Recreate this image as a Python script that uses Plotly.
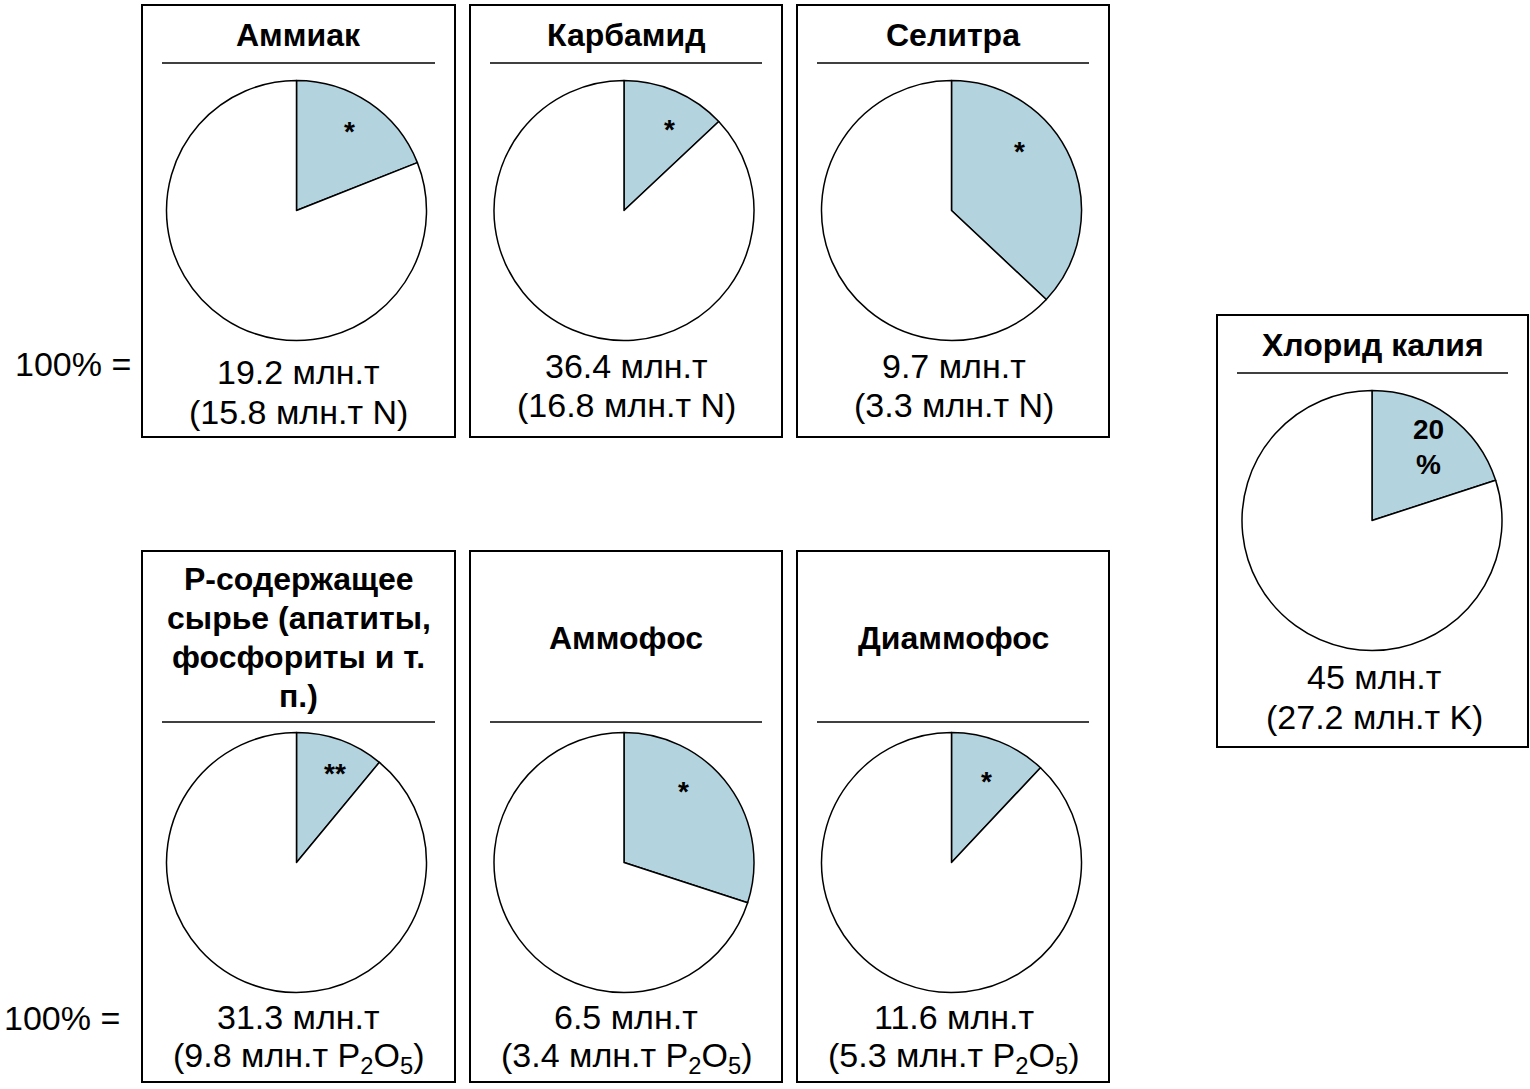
import plotly.graph_objects as go

# Fertilizer products and the shaded share of each pie (percent)
products = ["Аммиак", "Карбамид", "Селитра",
            "Р-содержащее<br>сырье (апатиты,<br>фосфориты и т.<br>п.)",
            "Аммофос", "Диаммофос", "Хлорид калия"]
share_pct = [19, 13, 37, 11, 30, 12, 20]
total_mt = ["19.2", "36.4", "9.7", "31.3", "6.5", "11.6", "45"]
nutrient_mt = ["15.8", "16.8", "3.3", "9.8", "3.4", "5.3", "27.2"]
nutrient = ["N", "N", "N", "P<sub>2</sub>O<sub>5</sub>",
            "P<sub>2</sub>O<sub>5</sub>", "P<sub>2</sub>O<sub>5</sub>", "K"]
slice_marks = ["*", "*", "*", "**", "*", "*", None]  # None -> print the share

W, H = 1530, 1089
R = 130
BLUE = "#b3d3de"
FONT = "Liberation Sans, Arial, sans-serif"
BODY = 34
TITLE = 32
TITLE_STEP = 39

# panel geometry in pixels: box (x0, y0, x1, y1), rule y, pie centre, label rows, mark offset
panels = [
    dict(box=(142, 5, 455, 437), rule=63, c=(296.5, 210.5), lab=(372, 412), mark=(53, -82)),
    dict(box=(470, 5, 782, 437), rule=63, c=(624, 210.5), lab=(366, 405), mark=(45, -84)),
    dict(box=(797, 5, 1109, 437), rule=63, c=(951.5, 210.5), lab=(366, 405), mark=(68, -62)),
    dict(box=(142, 551, 455, 1082), rule=722, c=(296.5, 862.5), lab=(1017, 1057), mark=(38, -92)),
    dict(box=(470, 551, 782, 1082), rule=722, c=(624, 862.5), lab=(1017, 1057), mark=(59, -74)),
    dict(box=(797, 551, 1109, 1082), rule=722, c=(951.5, 862.5), lab=(1017, 1057), mark=(35, -84)),
    dict(box=(1217, 315, 1528, 747), rule=373, c=(1372, 520.5), lab=(677, 717), mark=(56, -75)),
]


def px(x):
    return x / W


def py(y):
    return 1 - y / H


def text(x, y, s, size, bold=False):
    return dict(xref="paper", yref="paper", x=px(x), y=py(y),
                text=("<b>%s</b>" % s) if bold else s, showarrow=False,
                xanchor="center", yanchor="middle",
                font=dict(family=FONT, size=size, color="black"))


fig = go.Figure()
shapes = []
annotations = []

for i, p in enumerate(panels):
    x0, y0, x1, y1 = p["box"]
    cx, cy = p["c"]
    fig.add_trace(go.Pie(
        values=[share_pct[i], 100 - share_pct[i]],
        sort=False, direction="clockwise", rotation=0,
        marker=dict(colors=[BLUE, "white"], line=dict(color="black", width=1.5)),
        textinfo="none", hoverinfo="skip", showlegend=False,
        domain=dict(x=[px(cx - R), px(cx + R)], y=[py(cy + R), py(cy - R)]),
    ))
    # panel frame and title rule
    shapes.append(dict(type="rect", xref="paper", yref="paper",
                       x0=px(x0), x1=px(x1), y0=py(y1), y1=py(y0),
                       line=dict(color="black", width=2), layer="below"))
    shapes.append(dict(type="line", xref="paper", yref="paper",
                       x0=px(x0 + 20), x1=px(x1 - 20), y0=py(p["rule"]), y1=py(p["rule"]),
                       line=dict(color="black", width=1.5)))
    bx = (x0 + x1) / 2
    # title lines centred in the header area
    lines = products[i].split("<br>")
    mid = (y0 + p["rule"]) / 2 + 1
    top = mid - TITLE_STEP * (len(lines) - 1) / 2
    for k, ln in enumerate(lines):
        annotations.append(text(bx, top + k * TITLE_STEP, ln, TITLE, bold=True))
    # totals under the pie
    l1, l2 = p["lab"]
    annotations.append(text(cx + 2, l1, "%s млн.т" % total_mt[i], BODY))
    annotations.append(text(cx + 2, l2, "(%s млн.т %s)" % (nutrient_mt[i], nutrient[i]), BODY))
    # mark inside the shaded slice
    mx, my = p["mark"]
    if slice_marks[i] is None:
        annotations.append(text(cx + mx, cy + my - 16, "%d" % share_pct[i], 28, bold=True))
        annotations.append(text(cx + mx, cy + my + 19, "%", 28, bold=True))
    else:
        annotations.append(text(cx + mx, cy + my + 3, slice_marks[i], 28, bold=True))

# row labels
for (x, y) in [(73, 364), (62, 1018)]:
    annotations.append(text(x, y, "100% =", BODY))

fig.update_layout(
    width=W, height=H,
    margin=dict(l=0, r=0, t=0, b=0),
    paper_bgcolor="white", plot_bgcolor="white",
    shapes=shapes, annotations=annotations,
)

fig.write_html("out.html", config={"displayModeBar": False})
